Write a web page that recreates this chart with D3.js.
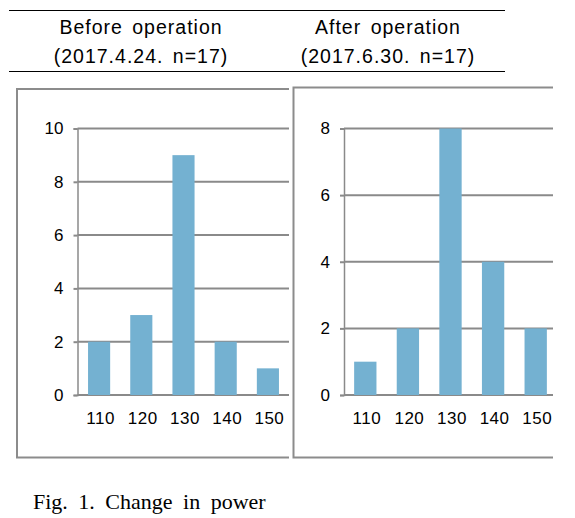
<!DOCTYPE html>
<html>
<head>
<meta charset="utf-8">
<script src="https://cdn.jsdelivr.net/npm/d3@7"></script>
<style>
  html, body { margin: 0; padding: 0; background: #fff; }
  svg { display: block; }
</style>
</head>
<body>
<svg id="chart" width="575" height="518"></svg>
<script>
// ---- data ----
const categories = ["110", "120", "130", "140", "150"];
const beforeValues = [2, 3, 9, 2, 1];
const afterValues = [1, 2, 8, 4, 2];
const beforeTicks = [0, 2, 4, 6, 8, 10];
const afterTicks = [0, 2, 4, 6, 8];
const titles = [
  ["Before operation", "(2017.4.24. n=17)"],
  ["After operation", "(2017.6.30. n=17)"]
];
const caption = "Fig. 1. Change in power";

// ---- styles ----
const barColor = "#74b1d1";
const gridColor = "#8a8a8a";
const frameColor = "#8c8c8c";
const sansFont = "'Liberation Sans', Arial, sans-serif";

const svg = d3.select("#chart");

// header rules
svg.append("line").attr("x1", 9).attr("x2", 505).attr("y1", 10.5).attr("y2", 10.5)
  .attr("stroke", "#000").attr("stroke-width", 1);
svg.append("line").attr("x1", 9).attr("x2", 505).attr("y1", 71.5).attr("y2", 71.5)
  .attr("stroke", "#000").attr("stroke-width", 1);

// titles
const titleX = [141, 388];
titles.forEach((t, i) => {
  const g = svg.append("text")
    .attr("x", titleX[i])
    .attr("text-anchor", "middle")
    .attr("font-family", sansFont)
    .attr("font-size", 19.5)
    .attr("letter-spacing", 1)
    .attr("word-spacing", 3)
    .attr("fill", "#000");
  g.append("tspan").attr("x", titleX[i]).attr("y", 34).text(t[0]);
  g.append("tspan").attr("x", titleX[i]).attr("y", 63).text(t[1]);
});

// panels config
const panels = [
  { values: beforeValues, ticks: beforeTicks, max: 10,
    frame: { x0: 17, x1: 289, y0: 89, y1: 457.5 },
    xRange: [78, 289], axisX: 77.5, clipRight: 289 },
  { values: afterValues, ticks: afterTicks, max: 8,
    frame: { x0: 293.5, x1: 553, y0: 87.5, y1: 457.5 },
    xRange: [344, 557], axisX: 344, clipRight: 553 }
];

const yTop = 128.5, yBottom = 395;

panels.forEach((p, i) => {
  const clipId = "clip" + i;
  svg.append("clipPath").attr("id", clipId)
    .append("rect").attr("x", 0).attr("y", 0)
    .attr("width", p.clipRight).attr("height", 518);

  const g = svg.append("g").attr("clip-path", `url(#${clipId})`);

  const x = d3.scaleBand().domain(categories).range(p.xRange).paddingInner(0.476).paddingOuter(0.238);
  const y = d3.scaleLinear().domain([0, p.max]).range([yBottom, yTop]);

  // frame (left, top, bottom; no right edge)
  const f = p.frame;
  g.append("path")
    .attr("d", `M${f.x1},${f.y0}H${f.x0}V${f.y1}H${f.x1}`)
    .attr("fill", "none").attr("stroke", frameColor).attr("stroke-width", 2);

  // gridlines
  g.append("g").selectAll("line").data(p.ticks).join("line")
    .attr("x1", p.axisX).attr("x2", p.clipRight + 10)
    .attr("y1", d => y(d)).attr("y2", d => y(d))
    .attr("stroke", gridColor).attr("stroke-width", 2);

  // bars
  g.append("g").selectAll("rect").data(p.values).join("rect")
    .attr("x", (d, k) => x(categories[k]))
    .attr("width", x.bandwidth())
    .attr("y", d => y(d))
    .attr("height", d => y(0) - y(d))
    .attr("fill", barColor);

  // y axis
  const yAxis = d3.axisLeft(y).tickValues(p.ticks).tickSize(4).tickPadding(10).tickFormat(d3.format("d"));
  const ya = g.append("g").attr("transform", `translate(${p.axisX},0)`).call(yAxis);
  ya.select(".domain").attr("stroke", gridColor).attr("stroke-width", 1.5);
  ya.selectAll(".tick line").attr("stroke", gridColor).attr("stroke-width", 2);
  ya.selectAll(".tick text").attr("font-family", sansFont).attr("font-size", 17).attr("fill", "#000");

  // x axis
  const xAxis = d3.axisBottom(x).tickSize(0).tickPadding(17);
  const xa = g.append("g").attr("transform", `translate(1.5,${yBottom})`).call(xAxis);
  xa.select(".domain").remove();
  xa.selectAll(".tick text").attr("font-family", sansFont).attr("font-size", 17)
    .attr("letter-spacing", 0.5).attr("fill", "#000");
});

// caption
svg.append("text")
  .attr("x", 33).attr("y", 509)
  .attr("font-family", "'Liberation Serif', 'Times New Roman', serif")
  .attr("font-size", 22)
  .attr("word-spacing", 5)
  .attr("fill", "#000")
  .text(caption);
</script>
</body>
</html>
